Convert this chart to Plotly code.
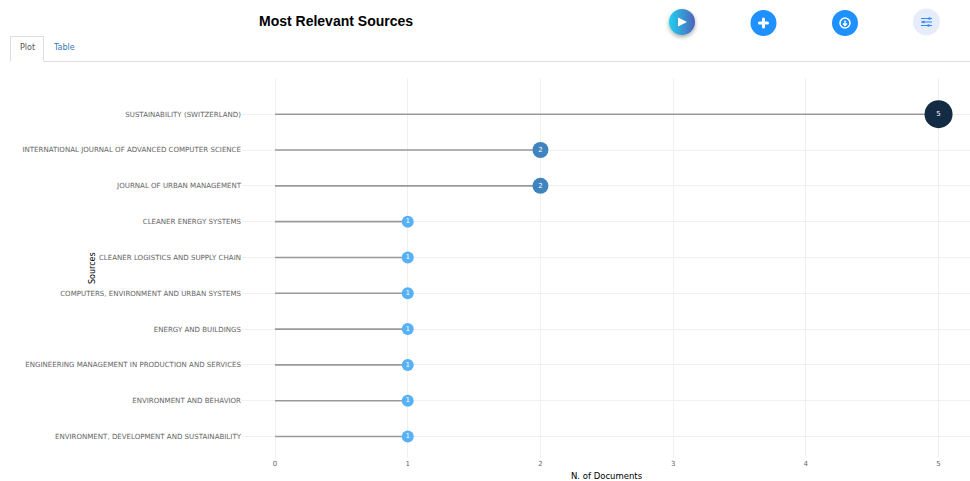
import base64
import plotly.graph_objects as go

W, H = 970, 481

sources = [
    "SUSTAINABILITY (SWITZERLAND)",
    "INTERNATIONAL JOURNAL OF ADVANCED COMPUTER SCIENCE",
    "JOURNAL OF URBAN MANAGEMENT",
    "CLEANER ENERGY SYSTEMS",
    "CLEANER LOGISTICS AND SUPPLY CHAIN",
    "COMPUTERS, ENVIRONMENT AND URBAN SYSTEMS",
    "ENERGY AND BUILDINGS",
    "ENGINEERING MANAGEMENT IN PRODUCTION AND SERVICES",
    "ENVIRONMENT AND BEHAVIOR",
    "ENVIRONMENT, DEVELOPMENT AND SUSTAINABILITY",
]
documents = [5, 2, 2, 1, 1, 1, 1, 1, 1, 1]
x_ticks = [0, 1, 2, 3, 4, 5]

marker_colors = {1: "#56B1F7", 2: "#3F83BF", 5: "#132B43"}
marker_sizes = {1: 12, 2: 16, 5: 28}


def px(x):
    return x / W


def py(y):
    return 1 - y / H


def svg_image(svg, cx, cy, size):
    uri = "data:image/svg+xml;base64," + base64.b64encode(svg.encode()).decode()
    return dict(source=uri, xref="paper", yref="paper", x=px(cx - size / 2), y=py(cy - size / 2),
                sizex=size / W, sizey=size / H, xanchor="left", yanchor="top",
                sizing="stretch", layer="above")


play_svg = """<svg xmlns='http://www.w3.org/2000/svg' width='40' height='40' viewBox='0 0 40 40'>
<defs><linearGradient id='g' x1='0' x2='1' y1='0' y2='0'><stop offset='0' stop-color='#1fd1f0'/><stop offset='1' stop-color='#4f63b8'/></linearGradient>
<filter id='s' x='-30%' y='-30%' width='160%' height='160%'><feDropShadow dx='0' dy='2' stdDeviation='2' flood-color='#000' flood-opacity='0.35'/></filter></defs>
<circle cx='20' cy='19' r='13' fill='url(#g)' filter='url(#s)'/>
<path d='M16 14.5 L25 19 L16 23.5 Z' fill='white'/></svg>"""

plus_svg = """<svg xmlns='http://www.w3.org/2000/svg' width='40' height='40' viewBox='0 0 40 40'>
<circle cx='20' cy='20' r='13' fill='#1e90ff'/>
<path d='M20 16 V24 M16 20 H24' stroke='white' stroke-width='3' stroke-linecap='round'/></svg>"""

save_svg = """<svg xmlns='http://www.w3.org/2000/svg' width='40' height='40' viewBox='0 0 40 40'>
<circle cx='20' cy='20' r='13' fill='#1e90ff'/>
<circle cx='20' cy='20' r='5' fill='none' stroke='white' stroke-width='1.5'/>
<path d='M20 17.5 V22.5 M18 20.5 L20 22.5 L22 20.5' fill='none' stroke='white' stroke-width='1.4'/></svg>"""

opts_svg = """<svg xmlns='http://www.w3.org/2000/svg' width='40' height='40' viewBox='0 0 40 40'>
<circle cx='20' cy='20' r='13.5' fill='#e6ecfa'/>
<path d='M14.5 16.5 H25.5 M14.5 20 H25.5 M14.5 23.5 H25.5' stroke='#2f8cff' stroke-width='1.1'/>
<circle cx='23' cy='16.5' r='1.3' fill='#2f8cff'/><circle cx='17' cy='20' r='1.3' fill='#2f8cff'/><circle cx='22' cy='23.5' r='1.3' fill='#2f8cff'/></svg>"""

fig = go.Figure()

for name, value in zip(sources, documents):
    fig.add_trace(go.Scatter(x=[0, value], y=[name, name], mode="lines",
                             line=dict(color="#999999", width=1.6),
                             hoverinfo="skip", showlegend=False))

fig.add_trace(go.Scatter(
    x=documents, y=sources, mode="markers+text",
    text=[str(v) for v in documents], textposition="middle center",
    textfont=dict(family="DejaVu Sans", size=7, color="#ffffff"),
    marker=dict(color=[marker_colors[v] for v in documents],
                size=[marker_sizes[v] for v in documents], line=dict(width=0), opacity=1),
    showlegend=False,
))

shapes = [
    # tab strip
    dict(type="line", xref="paper", yref="paper", x0=px(44), x1=1, y0=py(61.5), y1=py(61.5),
         line=dict(color="#dddddd", width=1)),
    dict(type="path", xref="paper", yref="paper",
         path=f"M {px(10.5)} {py(61.5)} L {px(10.5)} {py(36.5)} L {px(43.5)} {py(36.5)} L {px(43.5)} {py(61.5)}",
         line=dict(color="#dddddd", width=1)),
]

annotations = [
    dict(text="<b>Most Relevant Sources</b>", xref="paper", yref="paper", x=px(335.5), y=py(21),
         showarrow=False, xanchor="center", yanchor="middle",
         font=dict(family="Liberation Sans", size=14, color="#000000")),
    dict(text="Plot", xref="paper", yref="paper", x=px(27), y=py(47.5), showarrow=False,
         xanchor="center", yanchor="middle", font=dict(family="DejaVu Sans", size=8, color="#555555")),
    dict(text="Table", xref="paper", yref="paper", x=px(64), y=py(47.5), showarrow=False,
         xanchor="center", yanchor="middle", font=dict(family="DejaVu Sans", size=8, color="#337ab7")),
    dict(text="Sources", xref="paper", yref="paper", x=px(92), y=py(268), showarrow=False,
         textangle=-90, xanchor="center", yanchor="middle",
         font=dict(family="DejaVu Sans", size=8, color="#000000")),
    dict(text="N. of Documents", xref="paper", yref="paper", x=px(607), y=py(475.5), showarrow=False,
         xanchor="center", yanchor="middle",
         font=dict(family="DejaVu Sans", size=8.5, color="#000000")),
]

fig.update_layout(
    width=W, height=H, autosize=False,
    margin=dict(l=0, r=0, t=0, b=0),
    paper_bgcolor="#ffffff", plot_bgcolor="#ffffff",
    showlegend=False,
    xaxis=dict(domain=[px(242), 1], range=[-0.249, 5.237], tickmode="array", tickvals=x_ticks,
               ticktext=[str(t) for t in x_ticks], showgrid=True, gridcolor="#f0f0f0", gridwidth=1,
               zeroline=False, showline=False, ticks="",
               tickfont=dict(family="DejaVu Sans", size=7, color="#666666")),
    yaxis=dict(domain=[py(458), py(78.4)], type="category", categoryorder="array", categoryarray=sources,
               range=[9.6, -1.0], showgrid=True, gridcolor="#f0f0f0", gridwidth=1,
               zeroline=False, showline=False, ticks="",
               tickfont=dict(family="DejaVu Sans", size=7.05, color="#666666")),
    shapes=shapes,
    annotations=annotations,
    images=[svg_image(play_svg, 682, 23, 40), svg_image(plus_svg, 763.5, 23, 40),
            svg_image(save_svg, 845, 23, 40), svg_image(opts_svg, 926.5, 22, 40)],
)

fig.write_html("out.html", config=dict(displayModeBar=False),
               post_script="document.body.style.margin='0';document.body.style.overflow='hidden';")
